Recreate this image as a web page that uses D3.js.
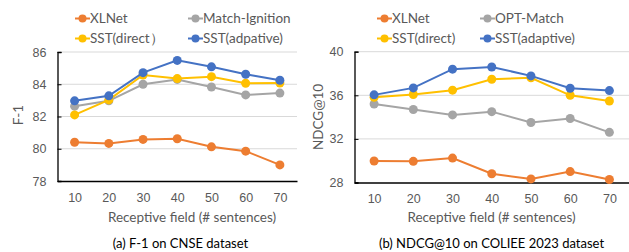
<!DOCTYPE html>
<html>
<head>
<meta charset="utf-8">
<script src="https://cdn.jsdelivr.net/npm/d3@7"></script>
<style>
  body { margin: 0; background: #fff; }
  svg { display: block; font-family: Lato, "Open Sans", sans-serif; }
</style>
</head>
<body>
<svg width="629" height="252"></svg>
<script>
var fields = [10, 20, 30, 40, 50, 60, 70];

// (a) F-1 on CNSE
var cnseXLNet = [80.40, 80.33, 80.58, 80.62, 80.12, 79.85, 79.00];
var cnseMatchIgnition = [82.64, 82.97, 84.00, 84.30, 83.83, 83.34, 83.45];
var cnseSSTDirect = [82.10, 83.03, 84.57, 84.35, 84.47, 84.06, 84.08];
var cnseSSTAdaptive = [82.97, 83.28, 84.72, 85.48, 85.08, 84.62, 84.25];
var cnseTicks = [78, 80, 82, 84, 86];

// (b) NDCG@10 on COLIEE 2023
var colieeXLNet = [29.97, 29.94, 30.24, 28.80, 28.33, 29.00, 28.28];
var colieeOPTMatch = [35.20, 34.70, 34.20, 34.50, 33.50, 33.87, 32.60];
var colieeSSTDirect = [35.81, 36.07, 36.47, 37.47, 37.60, 36.00, 35.48];
var colieeSSTAdaptive = [36.04, 36.68, 38.40, 38.60, 37.78, 36.65, 36.43];
var colieeTicks = [28, 32, 36, 40];

var colors = ["#ED7D31", "#A5A5A5", "#FFC000", "#4472C4"];
var grey = "#595959";

var svg = d3.select("svg");

function drawPanel(opt) {
    var x = d3.scalePoint().domain(fields).range([opt.x0, opt.x1]).padding(0.5);
    var y = d3.scaleLinear().domain(opt.domain).range([opt.y1, opt.y0]);
    var g = svg.append("g");

    //gridlines
    g.selectAll("line.grid")
        .data(opt.ticks.slice(1))
        .enter().append("line")
        .attr("x1", opt.x0).attr("x2", opt.x1)
        .attr("y1", function (d) { return y(d); })
        .attr("y2", function (d) { return y(d); })
        .attr("stroke", "#D9D9D9").attr("stroke-width", 1);

    //y axis
    var ya = g.append("g")
        .attr("transform", "translate(" + opt.x0 + ",0)")
        .call(d3.axisLeft(y).tickValues(opt.ticks).tickSize(-4).tickPadding(11));
    ya.select(".domain").attr("stroke", "#000").attr("stroke-width", 1.3);
    ya.selectAll(".tick line").attr("stroke", "#000");
    ya.selectAll("text").attr("fill", grey).style("font-size", "12.5px");

    //x axis
    var xa = g.append("g")
        .attr("transform", "translate(0," + opt.y1 + ")")
        .call(d3.axisBottom(x).tickSize(0).tickPadding(12));
    xa.select(".domain").attr("stroke", "#000").attr("stroke-width", 1.3);
    xa.selectAll("text").attr("fill", grey).style("font-size", "12.5px");

    //lines + markers
    var line = d3.line()
        .x(function (d, i) { return x(fields[i]); })
        .y(function (d) { return y(d); });

    opt.series.forEach(function (s, k) {
        g.append("path")
            .datum(s.values)
            .attr("d", line)
            .attr("fill", "none")
            .attr("stroke", colors[k])
            .attr("stroke-width", 2);
        g.selectAll("circle.s" + k)
            .data(s.values)
            .enter().append("circle")
            .attr("cx", function (d, i) { return x(fields[i]); })
            .attr("cy", function (d) { return y(d); })
            .attr("r", 4.5)
            .attr("fill", colors[k]);
    });

    //legend
    opt.series.forEach(function (s, k) {
        var lx = k % 2 == 0 ? opt.legX[0] : opt.legX[1];
        var ly = k < 2 ? 18.5 : 38.5;
        var lg = g.append("g").attr("transform", "translate(" + lx + "," + ly + ")");
        lg.append("line").attr("x1", 0).attr("x2", 15)
            .attr("stroke", colors[k]).attr("stroke-width", 2);
        lg.append("circle").attr("cx", 7.5).attr("r", 4).attr("fill", colors[k]);
        lg.append("text").attr("x", 15).attr("dy", "0.35em")
            .attr("fill", grey).style("font-size", "13.5px")
            .text(s.name);
    });

    //y title
    g.append("text")
        .attr("transform", "translate(" + opt.yTitleX + "," + opt.yTitleY + ") rotate(-90)")
        .attr("text-anchor", "middle").attr("dy", "0.35em")
        .attr("fill", grey).style("font-size", "13.5px")
        .text(opt.yTitle);

    //x title
    g.append("text")
        .attr("x", opt.xTitleX).attr("y", 217).attr("dy", "0.35em")
        .attr("text-anchor", "middle")
        .attr("fill", grey).style("font-size", "13.5px")
        .text("Receptive field (# sentences)");

    //caption
    g.append("text")
        .attr("x", opt.capX).attr("y", 243).attr("dy", "0.35em")
        .attr("text-anchor", "middle")
        .attr("fill", "#000").style("font-size", "13px")
        .text(opt.caption);
}

drawPanel({
    x0: 57.5, x1: 297, y0: 52, y1: 181,
    domain: [78, 86], ticks: cnseTicks,
    series: [
        { name: "XLNet", values: cnseXLNet },
        { name: "Match-Ignition", values: cnseMatchIgnition },
        { name: "SST(direct）", values: cnseSSTDirect },
        { name: "SST(adpative)", values: cnseSSTAdaptive }
    ],
    legX: [75, 188],
    yTitle: "F-1", yTitleX: 18, yTitleY: 115,
    xTitleX: 192, capX: 180.5,
    caption: "(a) F-1 on CNSE dataset"
});

drawPanel({
    x0: 354.5, x1: 629, y0: 51.7, y1: 182.5,
    domain: [28, 40], ticks: colieeTicks,
    series: [
        { name: "XLNet", values: colieeXLNet },
        { name: "OPT-Match", values: colieeOPTMatch },
        { name: "SST(direct)", values: colieeSSTDirect },
        { name: "SST(adaptive)", values: colieeSSTAdaptive }
    ],
    legX: [377, 480],
    yTitle: "NDCG@10", yTitleX: 318, yTitleY: 117,
    xTitleX: 491.5, capX: 491.5,
    caption: "(b) NDCG@10 on COLIEE 2023 dataset"
});
</script>
</body>
</html>
